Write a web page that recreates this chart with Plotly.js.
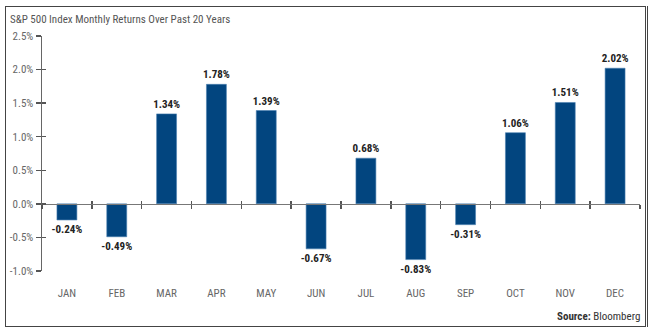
<!DOCTYPE html>
<html>
<head>
<meta charset="utf-8">
<script src="https://cdn.plot.ly/plotly-3.0.1.min.js"></script>
<style>
  html, body { margin: 0; padding: 0; background: #fff; }
  #wrap { position: relative; width: 654px; height: 334px; }
  #frame { position: absolute; left: 5px; top: 6px; width: 639px; height: 319px;
           border: 1.5px solid #444; box-sizing: content-box; pointer-events: none; }
  #frame2 { position: absolute; left: 647px; top: 6px; width: 0; height: 321px;
            border-left: 1.5px solid #444; pointer-events: none; }
  #chart { position: absolute; left: 0; top: 0; width: 654px; height: 334px; }
</style>
</head>
<body>
<div id="wrap">
  <div id="chart"></div>
  <div id="frame"></div>
  <div id="frame2"></div>
</div>
<script>
const months = ['JAN','FEB','MAR','APR','MAY','JUN','JUL','AUG','SEP','OCT','NOV','DEC'];
const returns = [-0.24, -0.49, 1.34, 1.78, 1.39, -0.67, 0.68, -0.83, -0.31, 1.06, 1.51, 2.02];
const yTicks = [-1.0, -0.5, 0.0, 0.5, 1.0, 1.5, 2.0, 2.5];
const titleText = 'S&P 500 Index Monthly Returns Over Past 20 Years';
const sourceText = '<b>Source:</b> Bloomberg';

const FONT = '"Liberation Sans Narrow", "Arial Narrow", "Roboto Condensed", "Liberation Sans", Arial, sans-serif';
const yMin = -1.0, yMax = 2.5;
const zeroPos = (0 - yMin) / (yMax - yMin);

const barColor = '#02457f';

const main = {
  type: 'bar', x: months, y: returns,
  marker: { color: barColor, line: { color: '#4a7fb0', width: 0.6 } },
  text: returns.map(v => v.toFixed(2) + '%'),
  textposition: 'outside',
  constraintext: 'none',
  textfont: { family: FONT, size: 11, color: '#222', weight: 'bold' },
  cliponaxis: false,
  hoverinfo: 'skip', showlegend: false
};
function dummy(xa, ya) {
  return { type: 'scatter', mode: 'markers', x: months, y: returns, xaxis: xa, yaxis: ya,
           marker: { opacity: 0, size: 1 }, hoverinfo: 'skip', showlegend: false };
}

const catAxisBase = {
  type: 'category', categoryorder: 'array', categoryarray: months,
  range: [-0.5, 11.5], showgrid: false, zeroline: false, fixedrange: true
};

const layout = {
  width: 654, height: 334,
  margin: { l: 42, r: 14, t: 36, b: 63 },
  paper_bgcolor: 'rgba(0,0,0,0)', plot_bgcolor: 'rgba(0,0,0,0)',
  font: { family: FONT, color: '#555', size: 11 },
  bargap: 0.6,
  title: { text: titleText, x: 10/654, xanchor: 'left', xref: 'container',
           y: 1 - 19/334, yref: 'container', yanchor: 'middle',
           font: { family: FONT, size: 11, color: '#555' } },
  xaxis: Object.assign({}, catAxisBase, {
    showline: false, ticks: '', ticklabelstandoff: 14,
    tickfont: { family: FONT, size: 11, color: '#666' }
  }),
  xaxis2: Object.assign({}, catAxisBase, {
    overlaying: 'x', anchor: 'free', position: zeroPos,
    showline: true, linecolor: '#777', linewidth: 1.5,
    ticks: 'outside', tickson: 'boundaries', ticklen: 4, tickwidth: 1.5, tickcolor: '#555',
    showticklabels: false
  }),
  xaxis3: Object.assign({}, catAxisBase, {
    overlaying: 'x', anchor: 'free', position: zeroPos,
    showline: false,
    ticks: 'inside', tickson: 'boundaries', ticklen: 3, tickwidth: 1.5, tickcolor: '#555',
    showticklabels: false
  }),
  yaxis: {
    range: [yMin, yMax], tickvals: yTicks, ticktext: yTicks.map(v => v.toFixed(1) + '%'),
    showgrid: false, zeroline: false, showline: true, linecolor: '#666', linewidth: 1.5,
    ticks: 'outside', ticklen: 5, tickwidth: 1.5, tickcolor: '#555',
    tickfont: { family: FONT, size: 11, color: '#666' }, fixedrange: true
  },
  yaxis2: {
    overlaying: 'y', anchor: 'x', side: 'left',
    range: [yMin, yMax], tickvals: yTicks, showticklabels: false,
    showgrid: false, zeroline: false, showline: false,
    ticks: 'inside', ticklen: 4, tickwidth: 1.5, tickcolor: '#555', fixedrange: true
  },
  annotations: [{
    text: sourceText, xref: 'paper', yref: 'paper', x: 1.003, xanchor: 'right',
    y: (271 - 316) / 235, yanchor: 'middle', showarrow: false,
    font: { family: FONT, size: 11, color: '#333' }
  }]
};

Plotly.newPlot('chart', [dummy('x2','y'), dummy('x3','y'), dummy('x','y2'), main], layout,
  { displayModeBar: false, staticPlot: true });
</script>
</body>
</html>
